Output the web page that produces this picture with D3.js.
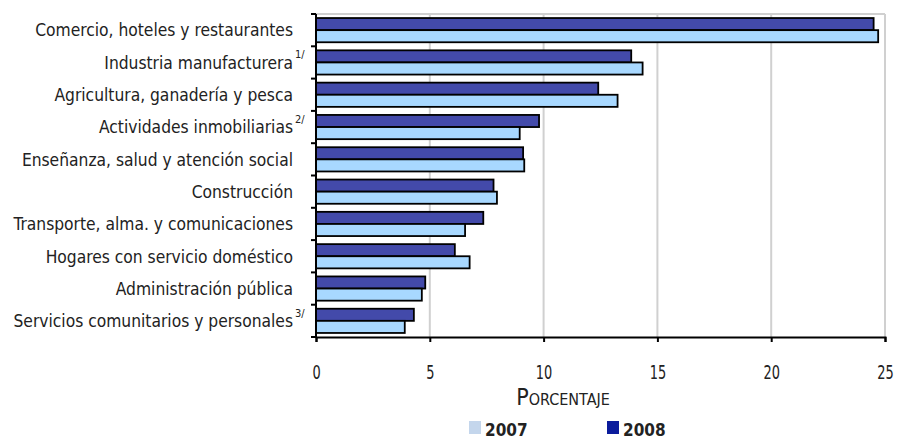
<!DOCTYPE html>
<html>
<head>
<meta charset="utf-8">
<script src="https://cdn.jsdelivr.net/npm/d3@7"></script>
<style>
  body { margin: 0; background: #fff; }
  text { font-family: "DejaVu Sans Condensed", "DejaVu Sans", sans-serif; font-stretch: condensed; fill: #222; }
</style>
</head>
<body>
<div id="chart"></div>
<script>
const categories = [
  'Comercio, hoteles y restaurantes',
  'Industria manufacturera',
  'Agricultura, ganadería y pesca',
  'Actividades inmobiliarias',
  'Enseñanza, salud y atención social',
  'Construcción',
  'Transporte, alma. y comunicaciones',
  'Hogares con servicio doméstico',
  'Administración pública',
  'Servicios comunitarios y personales'
];
const notes = ['', '1/', '', '2/', '', '', '', '', '', '3/'];
const values2008 = [24.5, 13.85, 12.4, 9.8, 9.1, 7.8, 7.35, 6.1, 4.8, 4.3];
const values2007 = [24.7, 14.35, 13.25, 8.95, 9.15, 7.95, 6.55, 6.75, 4.65, 3.9];
const xTicks = [0, 5, 10, 15, 20, 25];
const years = ['2007', '2008'];

const width = 897, height = 439;
const margin = { top: 14, right: 12, bottom: 102, left: 316 };
const w = width - margin.left - margin.right;
const h = height - margin.top - margin.bottom;

const svg = d3.select('#chart').append('svg')
  .attr('width', width)
  .attr('height', height);

const g = svg.append('g')
  .attr('transform', `translate(${margin.left},${margin.top})`);

const x = d3.scaleLinear().domain([0, 25]).range([0, w]);
const y = d3.scaleBand().domain(categories).range([0, h]).paddingInner(0.25).paddingOuter(0.125);

// gridlines + plot frame
g.selectAll('.grid')
  .data(xTicks.slice(1))
  .enter().append('line')
    .attr('x1', d => x(d)).attr('x2', d => x(d))
    .attr('y1', 0).attr('y2', h)
    .attr('stroke', '#d0d0d0')
    .attr('stroke-width', 2);
g.append('line')
  .attr('x1', 0).attr('x2', w).attr('y1', 0).attr('y2', 0)
  .attr('stroke', '#d0d0d0').attr('stroke-width', 2);

const barH = y.bandwidth() / 2;

// 2008 (dark) on top, 2007 (light) below
g.selectAll('.b2008')
  .data(categories)
  .enter().append('rect')
    .attr('x', 0)
    .attr('y', d => y(d))
    .attr('width', (d, i) => x(values2008[i]))
    .attr('height', barH)
    .attr('fill', '#434aaa')
    .attr('stroke', '#000')
    .attr('stroke-width', 1.8);

g.selectAll('.b2007')
  .data(categories)
  .enter().append('rect')
    .attr('x', 0)
    .attr('y', d => y(d) + barH)
    .attr('width', (d, i) => x(values2007[i]))
    .attr('height', barH)
    .attr('fill', '#a8d8ff')
    .attr('stroke', '#000')
    .attr('stroke-width', 1.8);

// y axis: ticks between categories
const step = h / categories.length;
const yAxis = g.append('g');
yAxis.append('line')
  .attr('x1', 0).attr('x2', 0).attr('y1', 0).attr('y2', h)
  .attr('stroke', '#000').attr('stroke-width', 2);
yAxis.selectAll('line.tk')
  .data(d3.range(categories.length + 1))
  .enter().append('line')
    .attr('x1', -5).attr('x2', 0)
    .attr('y1', d => d * step).attr('y2', d => d * step)
    .attr('stroke', '#000').attr('stroke-width', 2);

// category labels (font is a bit narrow in the original)
g.selectAll('.lab')
  .data(categories)
  .enter().append('text')
    .attr('transform', d => `translate(-23,${y(d) + y.bandwidth() / 2}) scale(0.96,1)`)
    .attr('dy', '0.35em')
    .attr('text-anchor', 'end')
    .style('font-size', '18px')
    .text(d => d);
g.selectAll('.note')
  .data(categories)
  .enter().append('text')
    .attr('x', -21)
    .attr('y', d => y(d) + y.bandwidth() / 2 - 4)
    .style('font-size', '11px')
    .text((d, i) => notes[i]);

// x axis
const xAxis = g.append('g').attr('transform', `translate(0,${h})`)
  .call(d3.axisBottom(x).tickValues(xTicks).tickSize(5));
xAxis.select('.domain').attr('stroke', '#000').attr('stroke-width', 2);
xAxis.selectAll('.tick line').attr('stroke', '#000').attr('stroke-width', 2);
xAxis.selectAll('.tick text')
  .attr('y', 42)
  .attr('dy', 0)
  .attr('transform', 'scale(0.72,1)')
  .style('font-size', '20px')
  .style('font-family', '"DejaVu Sans Condensed", "DejaVu Sans", sans-serif')
  .attr('fill', '#222');

// axis title in small caps
const title = svg.append('text')
  .attr('x', 563)
  .attr('y', 405)
  .attr('text-anchor', 'middle');
title.append('tspan').style('font-size', '23px').text('P');
title.append('tspan').style('font-size', '16px').text('ORCENTAJE');

// legend
const legendColors = ['#c4d6ec', '#0b1c9c'];
const legend = svg.selectAll('.leg')
  .data(years)
  .enter().append('g')
    .attr('transform', (d, i) => `translate(${469 + i * 138},421)`);
legend.append('rect')
  .attr('width', 12).attr('height', 13)
  .attr('fill', (d, i) => legendColors[i]);
legend.append('text')
  .attr('x', 16).attr('y', 15)
  .style('font-size', '17px')
  .style('font-weight', 'bold')
  .text(d => d);
</script>
</body>
</html>
